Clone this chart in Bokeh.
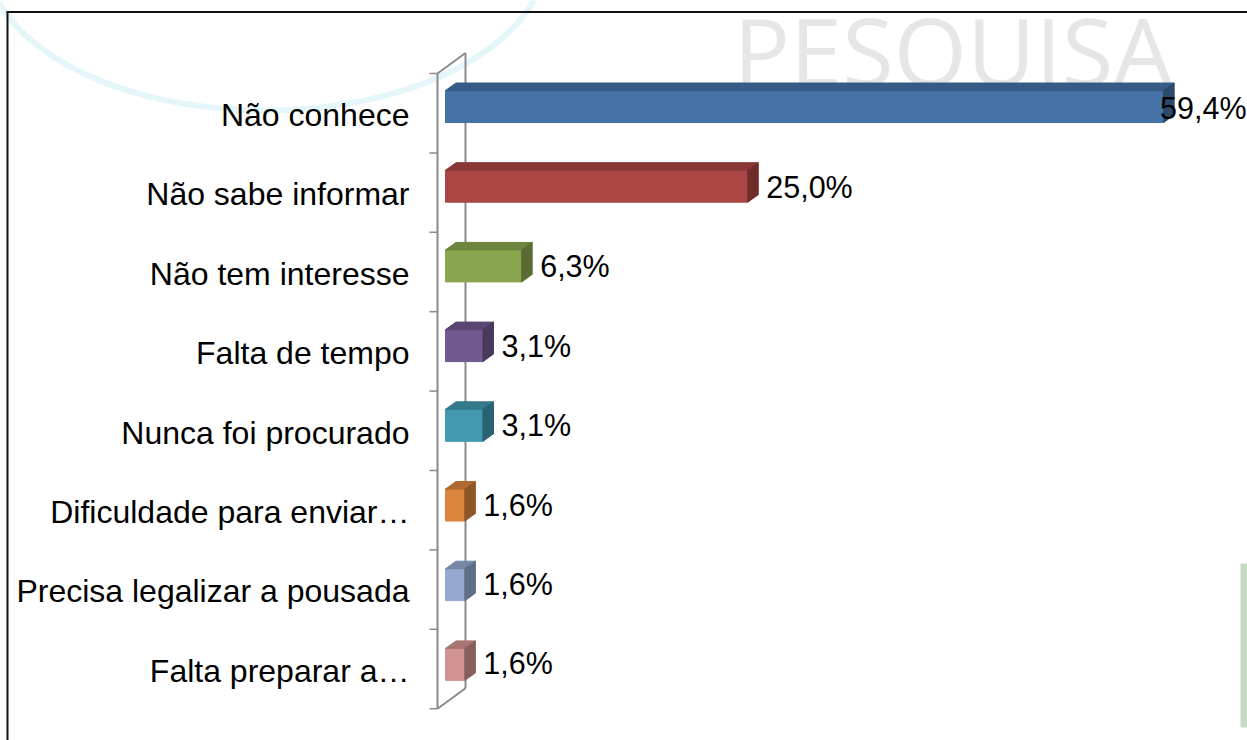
import numpy as np
from bokeh.plotting import figure
from bokeh.models import Range1d, ColumnDataSource
from bokeh.core.properties import value
from bokeh.embed import file_html
from bokeh.resources import INLINE

# ---------------- data ----------------
categories = [
    "Não conhece",
    "Não sabe informar",
    "Não tem interesse",
    "Falta de tempo",
    "Nunca foi procurado",
    "Dificuldade para enviar…",
    "Precisa legalizar a pousada",
    "Falta preparar a…",
]
values = [59.4, 25.0, 6.3, 3.1, 3.1, 1.6, 1.6, 1.6]
value_labels = ["59,4%", "25,0%", "6,3%", "3,1%", "3,1%", "1,6%", "1,6%", "1,6%"]

# ---------------- styles ----------------
front_colors = ["#4572A7", "#AA4643", "#89A54E", "#71588F",
                "#4198AF", "#DB843D", "#93A9CF", "#D19392"]


def shade(hex_color, f):
    h = hex_color.lstrip("#")
    r, g, b = (int(h[i:i + 2], 16) for i in (0, 2, 4))
    return "#%02x%02x%02x" % (int(r * f), int(g * f), int(b * f))


top_colors = [shade(c, 0.80) for c in front_colors]
side_colors = [shade(c, 0.65) for c in front_colors]

FONT = value("Liberation Sans")
W, H = 1247, 740
PX = 12.09      # pixels per percent point
PY = 79.4       # pixels per category band
ZERO_X = 445    # canvas x of 0 %
TOP_Y = 73      # canvas y of top of first band

x_start = -ZERO_X / PX
x_end = (W - ZERO_X) / PX
y_top = -0.5 - TOP_Y / PY
y_bottom = y_top + H / PY


def cx(px):
    return (px - ZERO_X) / PX


def cy(py):
    return y_top + py / PY


n = len(categories)
ks = np.arange(n)

p = figure(width=W, height=H,
           x_range=Range1d(x_start, x_end),
           y_range=Range1d(y_bottom, y_top),
           output_backend="svg", toolbar_location=None,
           x_axis_location=None, y_axis_location=None,
           min_border=0)
p.grid.visible = False
p.outline_line_color = None
p.background_fill_color = "white"
p.border_fill_color = "white"

# faint background swoosh (decoration)
p.ellipse(x=[cx(265)], y=[cy(-45)], width=560, height=310,
          width_units="screen", height_units="screen",
          fill_color=None, line_color="#e4f6fa", line_width=6)

# watermark
p.text(x=[cx(733)], y=[cy(49)], text=["PESQUISA"],
       text_font=value("Open Sans"), text_font_size="94px",
       text_color="#e6e6e6", text_align="left", text_baseline="middle")

# cut-off decoration at the right edge
p.quad(left=[cx(1240)], right=[cx(1250)], top=[cy(563)], bottom=[cy(727)],
       fill_color="#c6d9c4", line_color=None)

# frame border lines
p.segment(x0=[cx(6), cx(7)], y0=[cy(11.5), cy(11)],
          x1=[x_end, cx(7)], y1=[cy(11.5), y_bottom],
          line_color="#111111", line_width=2)

# 3D axis wall
AX_GRAY = "#8a8a8a"
front_x = -8 / PX
back_x = 20 / PX
depth_y = 20.5 / PY
y0, y1 = -0.5, n - 0.5
p.segment(x0=[front_x, back_x, front_x, front_x],
          y0=[y0, y0 - depth_y, y0, y1],
          x1=[front_x, back_x, back_x, back_x],
          y1=[y1, y1 - depth_y, y0 - depth_y, y1 - depth_y],
          line_color=AX_GRAY, line_width=2)
bounds = [k - 0.5 for k in range(n + 1)]
p.segment(x0=[-16 / PX] * len(bounds), y0=bounds,
          x1=[front_x] * len(bounds), y1=bounds,
          line_color=AX_GRAY, line_width=1.5)

# 3D bars
ddx = 10.5 / PX
ddy = 7.5 / PY
half = 16 / PY
shift = np.array([(-6.7 + 0.3 * k) / PY for k in ks])
tops = ks + shift - half
bots = ks + shift + half

front = ColumnDataSource(dict(left=[0] * n, right=values, top=tops, bottom=bots,
                              color=front_colors))
p.quad(left="left", right="right", top="top", bottom="bottom", source=front,
       fill_color="color", line_color="color", line_width=1)

top_src = ColumnDataSource(dict(
    xs=[[0, v, v + ddx, ddx] for v in values],
    ys=[[t, t, t - ddy, t - ddy] for t in tops],
    color=top_colors))
p.patches(xs="xs", ys="ys", source=top_src, fill_color="color",
          line_color="color", line_width=1)

side_src = ColumnDataSource(dict(
    xs=[[v, v + ddx, v + ddx, v] for v in values],
    ys=[[t, t - ddy, b - ddy, b] for t, b in zip(tops, bots)],
    color=side_colors))
p.patches(xs="xs", ys="ys", source=side_src, fill_color="color",
          line_color="color", line_width=1)

# category labels
p.text(x=[-36 / PX] * n, y=ks + 1.8 / PY, text=categories,
       text_font=FONT, text_font_size="32px", text_color="black",
       text_align="right", text_baseline="middle")

# value labels
LABEL_X_MAX = 59.1
lx = [min(v + (ddx * PX + 8) / PX, LABEL_X_MAX) for v in values]
p.text(x=lx, y=ks - 5.6 / PY, text=value_labels,
       text_font=FONT, text_font_size="30.5px", text_color="black",
       text_align="left", text_baseline="middle")

open("out.html", "w").write(file_html(p, INLINE))
